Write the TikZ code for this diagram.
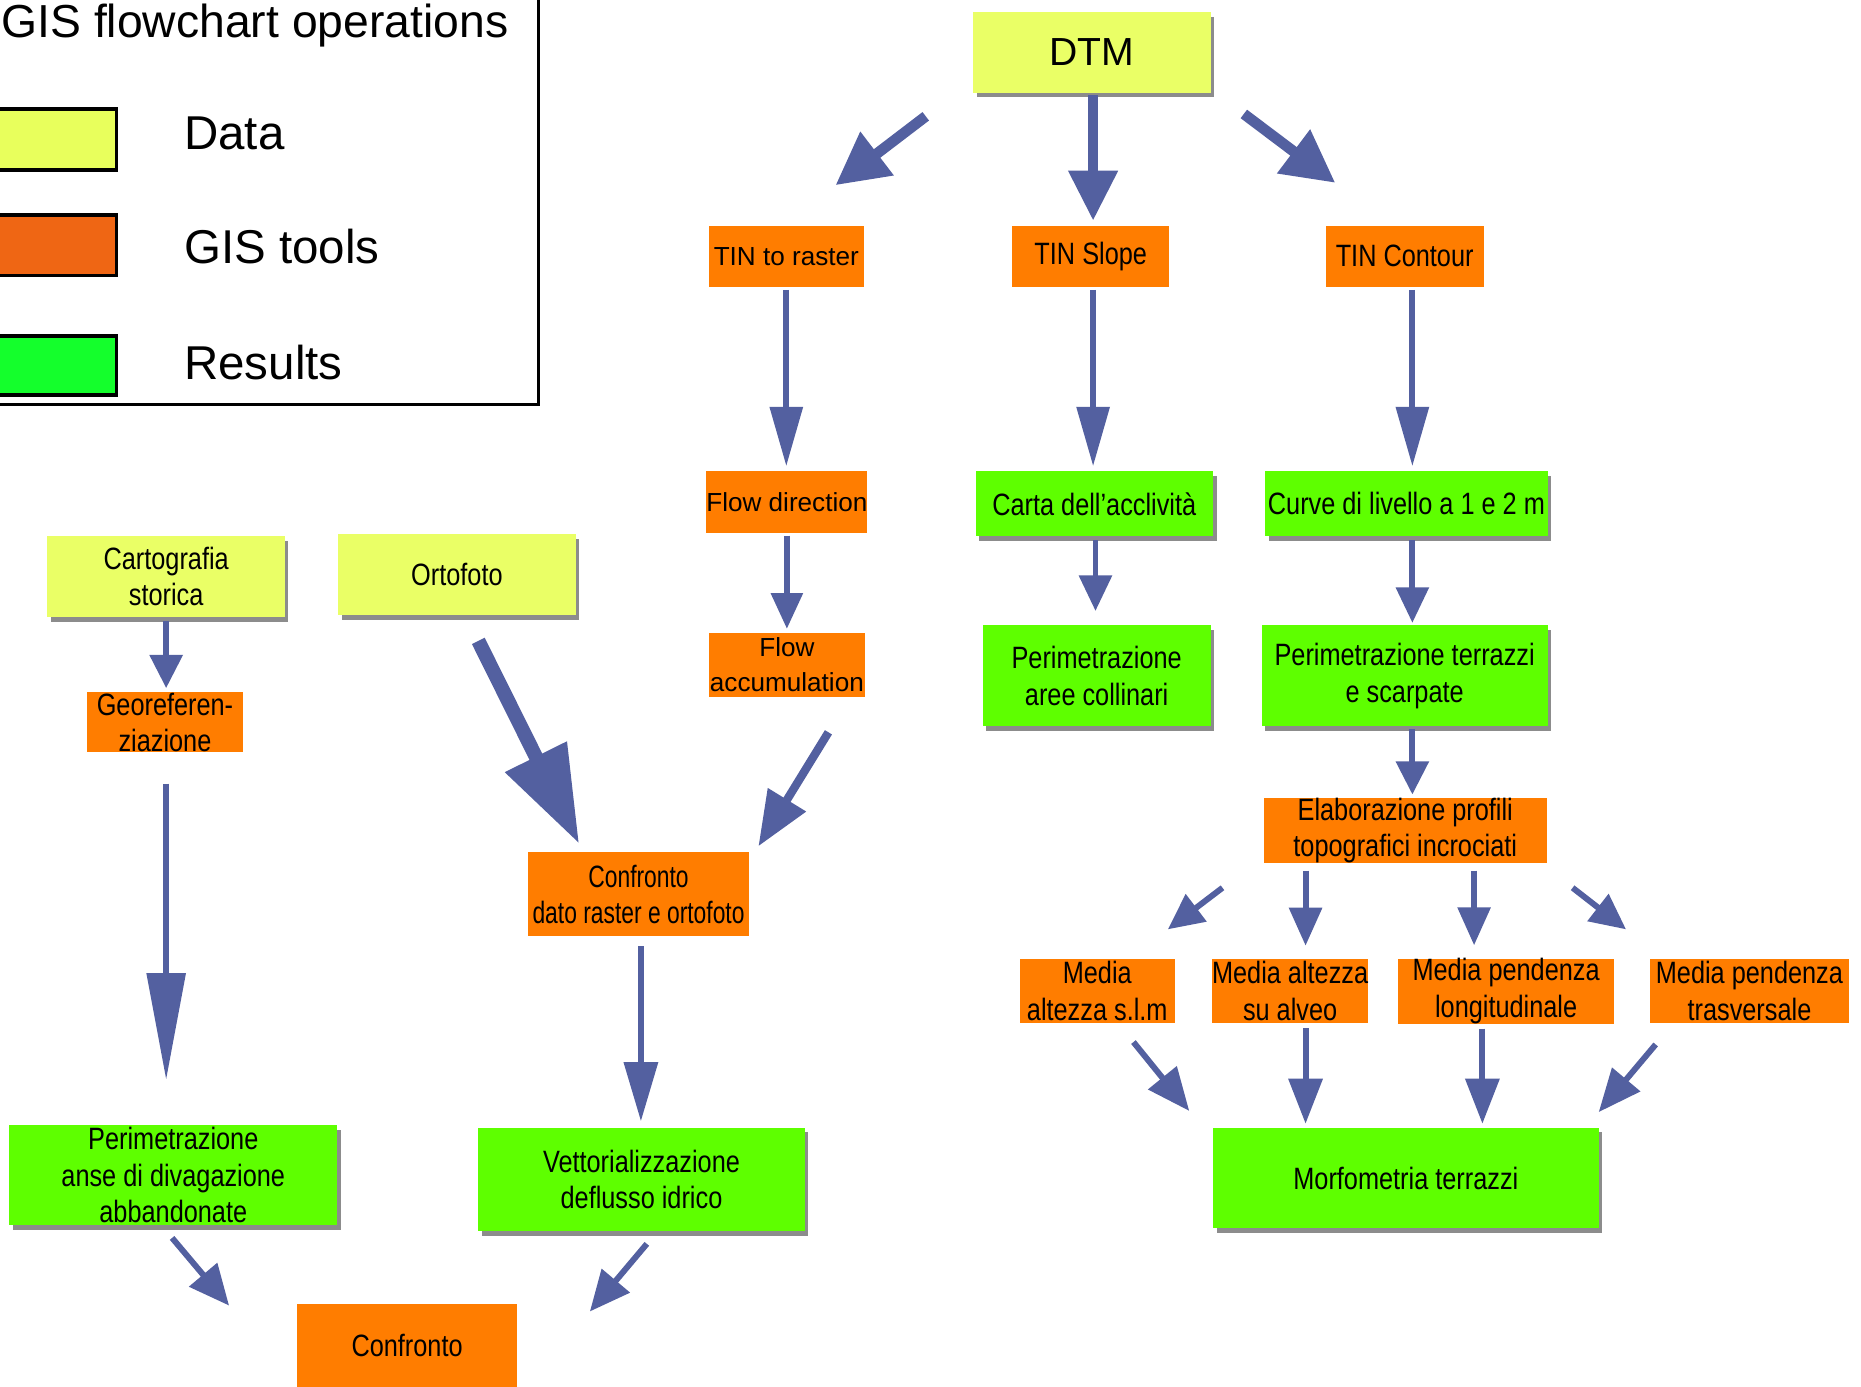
\documentclass[tikz,border=0pt]{standalone}
\usepackage{fontspec}
\setmainfont{Liberation Sans}
\newfontfamily\narrowf[FakeStretch=0.82]{Liberation Sans}
\newfontfamily\narrowerf[FakeStretch=0.74]{Liberation Sans}
\usetikzlibrary{arrows.meta,shadows}
\definecolor{ycol}{HTML}{EAFF66}
\definecolor{ocol}{HTML}{FF7D00}
\definecolor{gcol}{HTML}{5EFF00}
\definecolor{lyel}{HTML}{E8FF5C}
\definecolor{lora}{HTML}{EF6614}
\definecolor{lgre}{HTML}{14FF2C}
\definecolor{arrc}{HTML}{5360A0}
\tikzset{
  box/.style={rectangle, inner sep=0pt, align=center, text=black,
    font=\narrowf\fontsize{26}{30.5}\selectfont},
  shad/.style={drop shadow={shadow xshift=3pt, shadow yshift=-4pt, fill=black!60, opacity=0.75}},
  ybox/.style={box, fill=ycol, shad},
  gbox/.style={box, fill=gcol, shad},
  obox/.style={box, fill=ocol},
  regf/.style={font=\fontsize{22}{30}\selectfont},
  arr/.style n args={3}{draw=arrc, line width=#1, -{Triangle[width=#2, length=#3]}},
  legsw/.style={draw=black, line width=3pt},
  legtx/.style={anchor=base west, font=\fontsize{40}{48}\selectfont, inner sep=0pt}
}
\begin{document}
\begin{tikzpicture}[x=1pt,y=-1pt]
\clip (0,0) rectangle (1568,1168);
\fill[white] (0,0) rectangle (1568,1168);

% legend
\draw[line width=2.5pt] (-10,-10) rectangle (454,341);
\node[legtx, font=\fontsize{39}{46}\selectfont] (title) at (1,32) {GIS flowchart operations};
\draw[legsw, fill=lyel] (-10,92) rectangle (98,143);
\draw[legsw, fill=lora] (-10,181) rectangle (98,232);
\draw[legsw, fill=lgre] (-10,283) rectangle (98,333);
\node[legtx] (ldata) at (155,126) {Data};
\node[legtx] (ltools) at (155,222) {GIS tools};
\node[legtx] (lres) at (155,320) {Results};

% nodes
\node[ybox, minimum width=200pt, minimum height=68pt, font=\fontsize{33}{40}\selectfont] (dtm) at (920,44) {DTM};
\node[obox, regf, minimum width=131pt, minimum height=52pt] (tinr) at (662.5,216) {TIN to raster};
\node[obox, minimum width=132pt, minimum height=52pt] (tins) at (919,216) {TIN Slope};
\node[obox, minimum width=133pt, minimum height=52pt] (tinc) at (1183.5,216) {TIN Contour};
\node[obox, regf, minimum width=132pt, minimum height=52pt] (flowd) at (663,423) {Flow direction};
\node[obox, regf, minimum width=132pt, minimum height=54pt] (flowa) at (663,560) {Flow\\accumulation};
\node[gbox, minimum width=200pt, minimum height=55pt] (carta) at (922,424.5) {Carta dell’acclività};
\node[gbox, minimum width=238pt, minimum height=55pt] (curve) at (1185,424.5) {Curve di livello a 1 e 2 m};
\node[gbox, minimum width=192pt, minimum height=85pt] (perimA) at (924,569.5) {Perimetrazione\\aree collinari};
\node[gbox, minimum width=241pt, minimum height=85pt] (perimT) at (1183.5,569.5) {Perimetrazione terrazzi\\e scarpate};
\node[obox, minimum width=238pt, minimum height=54pt] (elab) at (1184,700) {Elaborazione profili\\topografici incrociati};
\node[obox, minimum width=131pt, minimum height=54pt] (m1) at (924.5,835) {Media\\altezza s.l.m};
\node[obox, minimum width=132pt, minimum height=54pt] (m2) at (1087,835) {Media altezza\\su alveo};
\node[obox, minimum width=182pt, minimum height=54pt] (m3) at (1269,835) {Media pendenza\\longitudinale};
\node[obox, minimum width=168pt, minimum height=54pt] (m4) at (1474,835) {Media pendenza\\trasversale};
\node[gbox, minimum width=325pt, minimum height=85pt] (morfo) at (1184.5,992.5) {Morfometria terrazzi};
\node[ybox, minimum width=200pt, minimum height=68pt] (carto) at (140,486) {Cartografia\\storica};
\node[ybox, minimum width=200pt, minimum height=68pt] (orto) at (385,484) {Ortofoto};
\node[obox, minimum width=132pt, minimum height=51pt] (georef) at (139,608.5) {Georeferen-\\ziazione};
\node[obox, minimum width=186pt, minimum height=71pt, font=\narrowerf\fontsize{26}{30.5}\selectfont] (confd) at (538,753.5) {Confronto\\dato raster e ortofoto};
\node[gbox, minimum width=276pt, minimum height=84pt] (anse) at (146,990) {Perimetrazione\\anse di divagazione\\abbandonate};
\node[gbox, minimum width=275pt, minimum height=87pt] (vett) at (540.5,993.5) {Vettorializzazione\\deflusso idrico};
\node[obox, minimum width=186pt, minimum height=70pt] (conf) at (343,1134) {Confronto};

% diagonal arrow end points
\coordinate (d1s) at (780,98);   \coordinate (d1e) at (704,156);
\coordinate (d2s) at (1048,96);  \coordinate (d2e) at (1125,154);
\coordinate (e1s) at (1030,748); \coordinate (e1e) at (984,783);
\coordinate (e4s) at (1325,748); \coordinate (e4e) at (1370,783);
\coordinate (f1s) at (955,878);  \coordinate (f1e) at (1002,936);
\coordinate (f4s) at (1395,880); \coordinate (f4e) at (1347,937);
\coordinate (os) at (403,540);   \coordinate (oe) at (488,711);
\coordinate (fas) at (698,617);  \coordinate (fae) at (639,713);
\coordinate (as) at (145,1043);  \coordinate (ae) at (193,1100);
\coordinate (vs) at (545,1048);  \coordinate (ve) at (497,1105);

% arrows from DTM
\draw[arr={8pt}{40pt}{42pt}, shorten <=2pt, shorten >=4pt] ([xshift=1pt]dtm.south) -- ([xshift=1pt]dtm.south |- tins.north);
\draw[arr={9pt}{44pt}{44pt}] (d1s) -- (d1e);
\draw[arr={9pt}{44pt}{44pt}] (d2s) -- (d2e);

% long verticals
\draw[arr={5pt}{27pt}{50pt}, shorten <=2pt, shorten >=4pt] (tinr.south) -- (tinr.south |- flowd.north);
\draw[arr={5pt}{27pt}{50pt}, shorten <=2pt, shorten >=4pt] ([xshift=2pt]tins.south) -- ([xshift=2pt]tins.south |- carta.north);
\draw[arr={5pt}{27pt}{50pt}, shorten <=2pt, shorten >=4pt] ([xshift=6.5pt]tinc.south) -- ([xshift=6.5pt]tinc.south |- curve.north);
\draw[arr={5pt}{26pt}{30pt}, shorten <=2pt, shorten >=3pt] (flowd.south) -- (flowd.south |- flowa.north);
\draw[arr={5pt}{27pt}{30pt}, shorten <=3pt, shorten >=12pt] ([xshift=1pt]carta.south) -- ([xshift=1pt]carta.south |- perimA.north);
\draw[arr={5pt}{27pt}{30pt}, shorten <=3pt, shorten >=2pt] ([xshift=5pt]curve.south) -- ([xshift=5pt]curve.south |- perimT.north);
\draw[arr={5pt}{27pt}{28pt}, shorten <=2pt, shorten >=3pt] ([xshift=6.5pt]perimT.south) -- ([xshift=6.5pt]perimT.south |- elab.north);

% from Elaborazione
\draw[arr={5pt}{28pt}{30pt}] (e1s) -- (e1e);
\draw[arr={5pt}{27pt}{32pt}, shorten <=6pt, shorten >=11pt] ([xshift=-84pt]elab.south) -- ([xshift=-84pt]elab.south |- m2.north);
\draw[arr={5pt}{27pt}{32pt}, shorten <=6pt, shorten >=11pt] ([xshift=58pt]elab.south) -- ([xshift=58pt]elab.south |- m3.north);
\draw[arr={5pt}{28pt}{30pt}] (e4s) -- (e4e);

% to Morfometria
\draw[arr={5pt}{30pt}{36pt}] (f1s) -- (f1e);
\draw[arr={5pt}{28pt}{38pt}, shorten <=4pt, shorten >=3pt] ([xshift=13pt]m2.south) -- ([xshift=13pt]m2.south |- morfo.north);
\draw[arr={5pt}{28pt}{38pt}, shorten <=4pt, shorten >=3pt] ([xshift=-20pt]m3.south) -- ([xshift=-20pt]m3.south |- morfo.north);
\draw[arr={5pt}{30pt}{36pt}] (f4s) -- (f4e);

% left part
\draw[arr={5pt}{27pt}{28pt}, shorten <=3pt, shorten >=3pt] (carto.south) -- (carto.south |- georef.north);
\draw[arr={5pt}{32pt}{90pt}, shorten <=26pt, shorten >=38pt] ([xshift=1pt]georef.south) -- ([xshift=1pt]georef.south |- anse.north);
\draw[arr={12pt}{55pt}{82pt}] (os) -- (oe);
\draw[arr={7pt}{36pt}{46pt}] (fas) -- (fae);
\draw[arr={5pt}{28pt}{50pt}, shorten <=8pt, shorten >=5pt] ([xshift=2pt]confd.south) -- ([xshift=2pt]confd.south |- vett.north);
\draw[arr={5pt}{30pt}{34pt}] (as) -- (ae);
\draw[arr={5pt}{30pt}{34pt}] (vs) -- (ve);
\end{tikzpicture}
\end{document}
